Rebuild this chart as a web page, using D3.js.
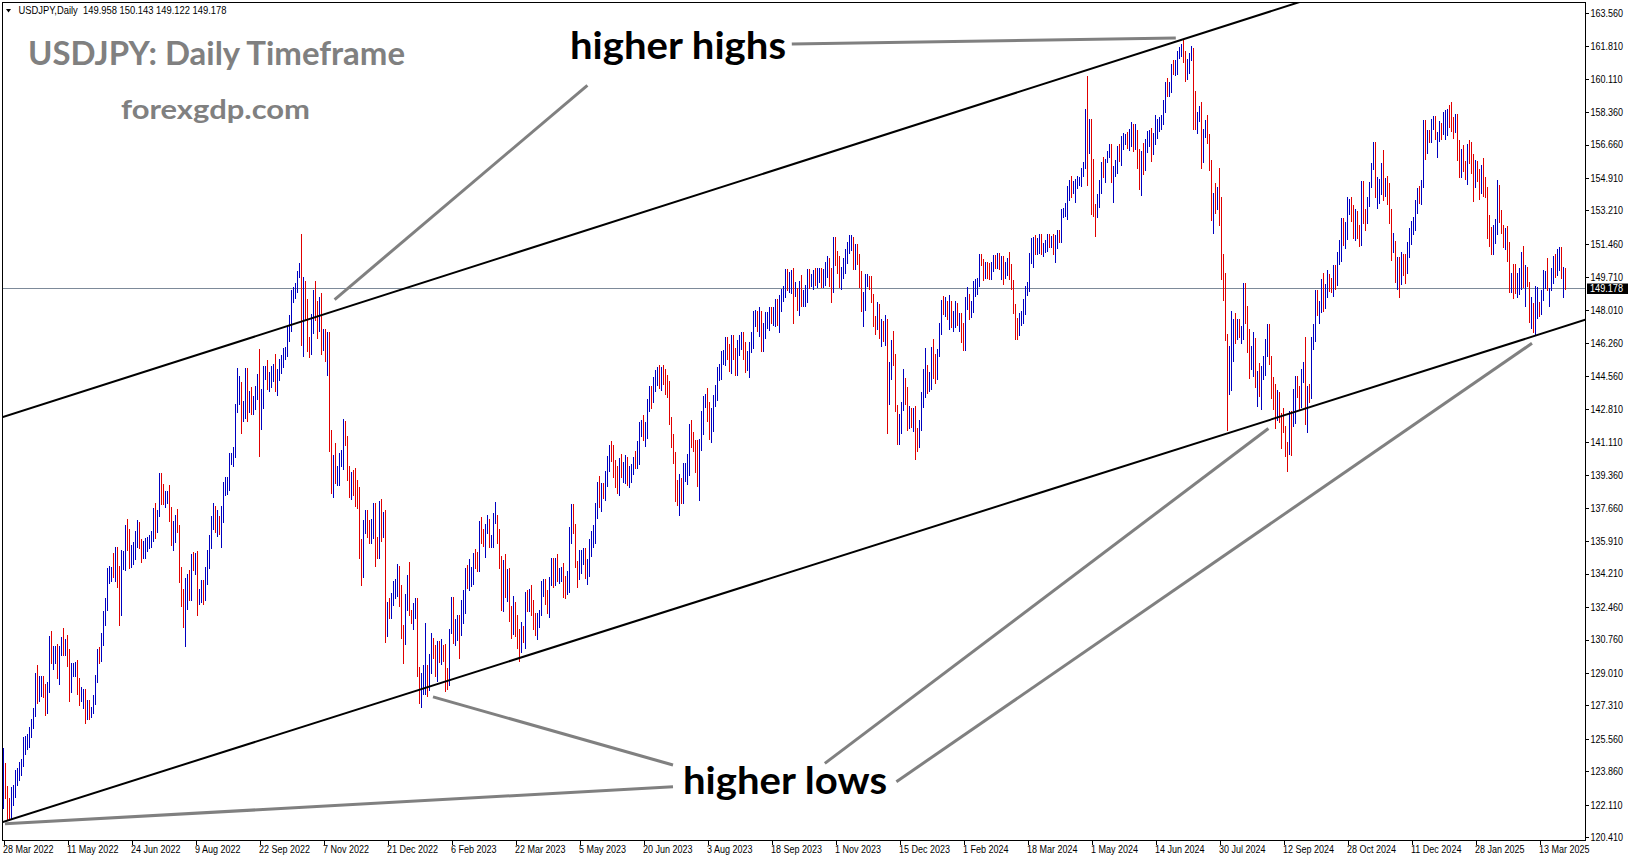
<!DOCTYPE html>
<html><head><meta charset="utf-8">
<script src="https://cdn.jsdelivr.net/npm/d3@7"></script>
<style>
html,body{margin:0;padding:0;background:#fff;overflow:hidden;}
svg{display:block;}
text{white-space:pre;}
</style></head>
<body><svg id="chart" width="1631" height="861"></svg>
<script>
// ---------------- DATA (USDJPY daily, 28 Mar 2022 .. 1 Apr 2025) ----------------
const symbolHeader = "USDJPY,Daily  149.958 150.143 149.122 149.178";
const chartTitle = "USDJPY: Daily Timeframe";
const siteLabel = "forexgdp.com";
const firstOpen = 122.10;
const lastPrice = 149.178;
// daily closes (one trading week per line)
const closes = [
123.85,122.85,121.85,121.70,122.50, 122.80,123.60,123.80,123.95,124.30,
125.35,125.40,125.60,125.85,126.40, 126.95,128.90,127.90,128.40,128.50,
128.10,127.20,128.30,130.80,129.70, 130.10,130.10,129.10,130.20,130.55,
130.30,130.45,129.95,128.30,129.20, 129.20,129.35,128.20,127.80,127.85,
127.85,126.85,127.35,127.10,127.10, 127.65,128.70,130.05,129.90,130.85,
131.90,132.60,134.20,134.40,134.45, 134.40,135.40,133.90,132.20,135.00,
135.05,136.65,136.20,134.95,135.20, 135.45,136.10,136.60,135.70,135.20,
135.70,135.85,135.90,136.00,136.10, 137.40,136.85,137.40,138.95,138.55,
138.15,138.20,138.20,137.35,136.10, 136.65,136.95,136.55,134.25,133.30,
131.60,133.15,133.85,133.00,135.00, 134.95,135.05,132.90,133.00,133.45,
133.30,134.25,135.10,135.90,137.00, 137.50,136.75,137.10,136.55,137.20,
138.70,138.75,138.95,140.20,140.20, 140.50,142.75,143.75,144.10,142.55,
142.80,144.55,143.15,143.45,142.95, 143.20,143.70,144.05,142.35,143.35,
144.75,144.75,144.15,144.45,144.75, 144.85,144.15,144.60,145.10,145.30,
145.70,145.85,146.85,147.20,148.70, 149.00,149.20,149.90,150.15,147.65,
149.00,148.05,146.35,146.30,147.45, 148.70,148.15,147.90,148.25,146.60,
146.60,145.60,146.45,141.00,138.60, 139.90,139.30,139.50,140.20,140.35,
142.05,141.20,139.50,138.60,139.20, 138.90,138.10,138.00,135.30,134.30,
136.70,137.10,136.60,136.20,136.55, 137.70,135.60,135.50,137.80,136.60,
136.90,131.70,132.40,132.35,132.85, 133.50,133.50,134.50,133.00,131.10,
131.00,132.50,134.00,132.10,
131.90,132.25,132.50,129.20,127.90, 128.50,128.90,128.90,128.40,129.60,
130.70,130.15,129.25,130.25,129.85, 130.35,130.10,128.85,128.65,131.20,
132.65,131.05,131.40,131.60,131.35, 132.40,133.10,134.15,133.95,134.15,
134.25,134.95,134.90,134.70,136.45, 136.20,136.15,136.70,136.75,135.85,
135.90,137.15,137.15,136.10,134.90, 133.20,134.20,133.45,133.70,131.80,
131.40,132.50,131.50,130.90,130.70, 131.35,130.90,132.90,132.70,132.80,
132.50,131.70,131.35,131.80,132.20, 133.60,133.70,133.00,132.60,133.80,
134.50,134.10,134.70,134.20,134.20, 134.25,133.75,133.60,133.90,136.30,
137.50,136.60,134.65,134.30,134.80, 135.10,135.20,134.35,134.55,135.70,
136.10,136.40,137.60,138.70,137.95, 138.60,138.55,139.25,139.95,140.60,
140.40,139.75,139.30,138.80,139.95, 139.55,139.60,140.10,139.00,139.40,
139.60,140.10,140.00,140.30,141.80, 141.90,141.45,141.90,143.10,143.70,
143.45,144.05,144.45,144.80,144.30, 144.70,144.40,144.10,144.05,142.10,
141.30,140.35,138.50,138.05,138.80, 138.70,139.55,139.65,140.05,141.80,
141.50,140.90,140.10,139.45,141.15, 142.30,143.30,143.40,142.55,141.75,
142.45,143.35,143.75,144.70,144.95, 145.55,145.60,146.35,145.80,145.40,
146.25,145.90,144.85,146.10,146.45, 146.50,145.90,145.55,145.55,146.20,
146.50,147.65,147.70,147.30,147.85, 146.55,147.10,147.45,147.45,147.85,
147.60,147.85,148.35,147.60,148.35, 148.85,149.05,149.60,149.30,149.35,
149.85,149.00,149.05,148.50,149.30, 148.50,148.70,149.10,149.80,149.55,
149.55,149.85,149.80,149.85,149.85, 149.70,149.90,150.30,150.40,149.65,
149.10,151.70,150.95,150.50,149.40, 150.05,150.40,150.95,151.35,151.50,
151.70,150.40,151.35,150.70,149.60, 148.35,148.40,149.55,149.55,149.45,
148.70,147.45,147.20,148.20,146.80, 147.20,147.15,147.30,144.15,144.95,
146.20,145.40,142.90,141.85,142.15, 142.85,143.90,143.55,142.10,142.45,
142.35,142.45,141.40,141.00,
142.00,143.30,144.60,144.60,
144.25,144.45,145.75,145.30,144.85, 145.75,147.20,148.20,148.15,148.15,
148.10,148.35,147.50,147.60,148.15, 147.50,147.60,146.90,146.40,148.35,
148.70,147.90,148.15,149.30,149.30, 149.35,150.80,150.55,149.95,150.20,
150.15,150.00,150.30,150.55,150.50, 150.65,150.50,150.70,149.95,150.10,
150.50,150.00,149.35,148.10,147.05, 146.95,147.70,147.80,148.35,149.05,
149.15,150.85,151.25,151.60,151.40, 151.45,151.55,151.30,151.30,151.35,
151.65,151.55,151.65,151.30,151.60, 151.85,151.75,153.15,153.20,153.25,
154.25,154.70,154.40,154.65,154.65, 154.80,154.85,155.30,155.60,158.30,
156.80,157.75,155.40,153.20,152.95, 153.85,154.70,155.60,155.45,155.80,
156.20,156.45,154.85,155.40,155.65, 156.25,156.15,156.80,156.95,157.00,
156.85,157.15,157.60,156.80,157.30, 156.10,154.80,156.10,155.60,156.75,
157.05,157.20,156.65,157.05,157.40, 157.75,157.85,158.10,158.85,159.80,
159.70,159.70,160.75,160.65,160.85, 161.45,161.45,161.70,161.25,160.75,
160.80,161.35,161.60,158.85,157.85, 158.05,158.35,156.20,157.35,157.50,
157.00,155.50,153.10,153.90,153.75, 154.00,152.70,150.00,149.40,146.50,
144.20,144.30,146.80,147.20,146.65, 147.20,146.85,146.85,149.30,147.60,
146.60,145.20,145.20,146.30,144.35, 144.50,143.90,144.65,144.95,146.15,
146.95,145.45,143.75,143.40,142.30, 143.10,142.50,142.35,141.80,140.85,
140.65,142.40,142.30,142.65,143.90, 143.60,143.20,144.80,144.85,142.20,
143.60,143.55,146.45,146.95,148.70, 148.20,148.25,149.30,148.60,149.15,
149.75,149.25,149.20,150.05,149.50, 150.90,151.05,152.70,151.80,152.30,
153.30,153.40,153.35,152.05,152.95, 152.15,151.60,154.65,152.95,152.65,
153.70,154.60,155.45,156.25,154.30, 154.65,154.65,155.45,154.55,154.80,
154.20,153.05,151.10,151.50,149.75, 150.45,149.55,150.60,150.10,150.00,
151.25,151.95,152.45,152.65,153.65, 154.15,154.10,154.60,157.40,156.40,
157.20,157.15,157.85,157.85,
157.00,157.20,157.45,157.30,
157.65,158.05,158.30,158.05,157.75, 157.50,158.05,156.45,155.15,156.30,
155.65,155.55,156.55,156.05,155.95, 154.50,155.55,155.25,154.30,155.15,
154.35,154.30,152.65,152.00,151.40, 152.10,152.45,154.40,152.80,152.30,
151.55,151.95,151.45,149.20,149.60, 149.00,148.95,149.10,149.80,150.60,
149.40,149.85,149.35,147.95,148.05, 147.25,147.75,148.30,147.85,148.60,
149.25,149.30,149.10,149.12,149.90, 150.70,149.90,150.55,151.05,149.85,
149.95,149.178
];
// upper wick above max(open, close), in tenths of a yen
const wickUp = [
12,4,2,6,5, 3,3,2,4,2, 3,3,2,3,2, 2,1,5,4,3, 3,3,2,1,4, 3,3,4,2,3,
8,3,5,3,3, 3,2,3,5,4, 3,3,2,2,1, 2,2,2,3,2, 3,3,3,2,1, 8,2,2,7,4,
3,1,4,3,5, 4,3,4,3,3, 2,2,2,2,3, 2,5,1,5,5, 3,3,3,6,3, 3,3,6,2,3,
1,8,3,5,2, 3,2,3,4,4, 4,3,3,3,2, 4,2,4,1,5, 3,5,3,3,3, 3,3,12,4,1,
4,4,4,3,5, 3,3,6,19,5, 3,3,6,3,3, 3,8,3,3,3, 3,2,3,5,3, 2,2,1,3,18,
7,5,5,2,3, 3,8,3,4,6, 4,4,4,4,7, 5,11,3,3,3, 2,1,2,3,3, 4,8,10,7,7,
3,4,4,4,5, 2,2,5,2,3, 5,6,3,5,3, 3,4,2,1,6,
4,6,1,8,
2,4,4,4,1, 5,5,27,5,4, 4,1,3,4,4, 4,1,4,4,1, 3,3,4,4,4, 4,2,3,5,8,
3,3,5,4,5, 7,3,1,5,3, 3,2,8,1,4, 2,7,10,7,8, 7,5,2,5,4, 3,1,3,4,6,
8,3,4,3,1, 2,2,2,3,2, 5,5,3,5,3, 3,5,3,4,3, 3,3,2,2,6, 3,3,3,4,3,
3,3,3,3,6, 3,3,3,4,3, 5,5,4,5,3, 5,4,3,2,4, 3,2,5,8,3, 3,6,2,2,3,
3,4,4,2,3, 3,4,5,5,2, 3,2,2,6,6, 4,4,3,4,2, 4,1,3,11,1, 4,2,2,5,6,
4,2,3,3,2, 3,3,2,2,4, 4,4,1,3,2, 3,3,4,3,1, 3,3,3,2,3, 1,2,4,4,3,
3,3,2,2,4, 2,2,5,5,6, 2,3,4,1,2, 5,3,2,3,3, 3,2,3,3,3, 3,2,2,4,3,
5,1,1,1,3, 2,3,2,2,4, 2,1,1,1,2, 4,5,3,3,2, 3,1,2,2,1, 3,2,4,2,3,
2,7,3,1,4, 3,10,5,4,5,
4,4,5,4,
2,4,3,14,
5,3,3,7,4, 2,1,3,5,5, 3,4,1,3,3, 2,2,2,4,3, 5,1,3,2,3, 3,1,1,1,3,
3,3,2,3,3, 3,3,1,1,4, 2,5,4,2,2, 5,1,1,2,2, 3,1,5,2,3, 3,4,4,2,3,
3,3,2,3,3, 3,3,1,1,3, 2,1,3,1,2, 2,1,1,1,2, 19,2,2,5,3, 2,1,1,4,1,
1,2,2,1,2, 3,4,3,3,2, 3,3,2,1,4, 1,3,2,6,2, 3,2,3,2,8, 2,2,1,1,1,
3,2,1,3,2, 1,3,2,4,3, 3,1,2,1,6, 3,3,5,1,4, 7,2,3,2,7, 4,14,12,9,5,
2,18,11,3,6, 3,3,3,1,1, 6,4,9,5,2, 3,7,4,6,3, 3,3,1,7,7, 7,6,1,5,1,
2,3,3,12,6, 6,4,1,4,17, 4,5,1,3,3, 3,2,3,6,2, 3,1,4,3,3, 1,6,1,1,3,
6,4,5,1,3, 2,3,1,1,3, 2,1,2,5,5, 3,2,2,9,1, 2,4,2,5,1, 3,3,4,3,8,
3,3,2,2,1, 2,3,2,5,5,
2,2,1,3,
3,1,4,3,
7,4,2,4,8, 3,2,2,4,1, 3,1,1,3,7, 2,3,2,1,4, 8,6,1,3,3, 3,3,4,1,4,
1,3,4,1,3, 8,14,8,4,4, 7,5,4,1,6, 3,15,9,1,4, 8,7,14,0,3, 1,2,6,2,2,
3,2
];
// lower wick below min(open, close), in tenths of a yen
const wickDown = [
2,4,5,4,3, 4,3,5,4,3, 2,6,4,5,2, 3,2,5,4,6, 4,4,3,3,2, 5,6,4,7,3,
4,4,6,8,3, 4,4,3,5,3, 7,5,3,5,4, 2,3,2,4,3, 4,4,3,5,6, 4,6,4,7,2,
6,7,8,5,4, 5,5,5,2,4, 2,7,5,4,4, 2,8,5,2,7, 3,5,3,4,4, 7,8,2,5,8,
2,12,8,2,2, 6,8,9,3,3, 7,5,6,6,4, 5,4,6,3,10, 3,4,4,4,3, 4,2,1,7,10,
4,5,10,5,4, 4,4,4,20,6, 5,4,3,4,5, 5,4,6,3,4, 3,3,3,5,3, 3,4,3,2,15,
21,6,5,8,6, 7,7,14,10,9, 7,3,10,4,2, 4,4,5,7,4, 7,3,4,4,5, 6,4,4,3,7,
3,4,5,4,4, 5,10,5,5,7, 5,11,8,5,5, 3,6,5,5,3,
15,5,2,1,
3,6,4,4,5, 7,6,10,6,3, 6,4,4,7,3, 4,5,8,5,3, 1,5,6,7,16, 4,8,10,5,6,
6,6,4,4,4, 4,5,11,4,3, 3,3,3,3,4, 9,10,5,7,1, 6,4,6,6,11, 6,3,6,5,5,
5,4,4,6,4, 2,6,4,5,7, 2,6,5,4,5, 4,8,7,5,7, 5,3,1,8,4, 6,4,4,7,5,
6,5,6,5,3, 5,4,5,5,4, 3,5,6,4,5, 3,6,7,2,3, 4,2,3,3,4, 4,3,6,6,4,
6,3,3,4,4, 5,3,5,6,1, 5,4,5,3,8, 8,8,5,8,7, 7,3,6,7,14, 5,8,4,4,5,
7,8,4,5,4, 6,4,5,4,6, 7,5,3,3,5, 5,5,8,7,11, 4,5,5,4,7, 7,7,6,4,5,
3,4,7,4,8, 4,4,4,3,4, 5,17,3,5,8, 3,3,5,7,4, 3,5,5,6,4, 5,5,6,6,4,
7,2,6,6,2, 3,4,5,5,4, 4,3,3,3,4, 4,12,4,3,4, 3,3,5,2,3, 7,8,10,26,11,
6,3,2,9,9, 6,1,5,4,3,
5,7,12,4,
2,3,4,12,
6,5,6,9,7, 5,2,5,4,5, 6,11,4,6,5, 3,6,6,5,5, 3,4,3,3,6, 5,1,2,4,3,
5,4,4,3,3, 3,4,9,6,3, 3,4,3,3,6, 5,3,5,5,6, 3,2,4,10,5, 5,5,4,5,3,
3,3,3,4,8, 4,2,2,3,3, 5,5,5,3,10, 3,3,4,3,2, 23,6,24,3,11, 1,5,6,5,8,
1,2,2,12,4, 5,4,6,4,3, 4,5,6,5,4, 7,5,8,5,3, 5,5,9,5,4, 4,4,4,4,5,
5,5,3,3,4, 5,3,2,3,8, 7,4,3,14,4, 6,2,8,5,3, 3,2,4,11,7, 5,3,4,9,1,
25,6,5,15,4, 2,3,6,4,3, 8,8,3,7,4, 14,4,11,3,4, 6,3,4,6,5, 1,4,16,2,5,
11,2,19,4,6, 2,4,3,6,2, 6,4,2,5,6, 5,9,4,7,5, 5,3,3,5,4, 2,5,5,4,6,
6,3,7,3,4, 4,3,2,4,5, 1,3,2,1,4, 10,11,6,8,6, 7,5,5,1,3, 7,9,2,3,6,
1,5,5,5,5, 6,5,6,2,5,
2,4,4,4,
1,10,4,4,
1,7,9,5,4, 5,2,6,2,2, 4,7,10,4,8, 8,1,5,5,2, 4,4,9,7,5, 5,6,5,2,3,
3,4,9,3,3, 4,1,3,3,7, 2,12,1,6,9, 4,6,2,2,1, 1,1,1,9,1, 5,2,1,5,2,
12,1
];
// price-axis labels
const priceTicks = [163.560,161.810,160.110,158.360,156.660,154.910,153.210,151.460,149.710,
  148.010,146.260,144.560,142.810,141.110,139.360,137.660,135.910,134.210,132.460,
  130.760,129.010,127.310,125.560,123.860,122.110,120.410];
// date-axis labels, one every 32 bars
const dateTickLabels = ["28 Mar 2022","11 May 2022","24 Jun 2022","9 Aug 2022","22 Sep 2022",
  "7 Nov 2022","21 Dec 2022","6 Feb 2023","22 Mar 2023","5 May 2023","20 Jun 2023",
  "3 Aug 2023","18 Sep 2023","1 Nov 2023","15 Dec 2023","1 Feb 2024","18 Mar 2024",
  "1 May 2024","14 Jun 2024","30 Jul 2024","12 Sep 2024","28 Oct 2024","11 Dec 2024",
  "28 Jan 2025","13 Mar 2025"];
const dateTickStep = 32;
// channel trend lines, as [bar index, price] anchor pairs
const channelUpper = [[0, 142.40], [700, 165.85]];
const channelLower = [[1, 121.25], [791.4, 147.50]];
// grey pointer lines from the labels, [bar index, price] pairs
const highsPointers = [
  [[394.4, 161.92], [586.4, 162.24]],
  [[292.2, 159.76], [165.8, 148.55]]
];
const lowsPointers = [
  [[335.0, 123.05], [1.0, 121.12]],
  [[335.0, 124.19], [215.0, 127.76]],
  [[410.9, 124.28], [632.7, 141.80]],
  [[446.7, 123.32], [764.5, 146.26]]
];

// ---------------- DRAWING ----------------
const svg = d3.select("#chart");
const P = {left: 2, top: 2, right: 1586, bottom: 841};
const n = closes.length;
const x = d3.scaleLinear().domain([0, n - 1]).range([3, 3 + 2 * (n - 1)]);
const y = d3.scaleLinear().domain([120.41, 163.56]).range([837.3, 12.7]);

svg.append("rect").attr("width", 1631).attr("height", 861).attr("fill", "#fff");
svg.append("defs").append("clipPath").attr("id", "plotClip")
  .append("rect").attr("x", P.left).attr("y", P.top)
  .attr("width", P.right - P.left).attr("height", P.bottom - P.top);

const bars = closes.map((c, i) => {
  const o = i === 0 ? firstOpen : closes[i - 1];
  return {i, o, c,
    hi: Math.max(o, c) + (wickUp[i] || 0) / 10,
    lo: Math.min(o, c) - (wickDown[i] || 0) / 10};
});

const plotG = svg.append("g").attr("clip-path", "url(#plotClip)");

// current price line
plotG.append("line")
  .attr("x1", P.left).attr("x2", P.right)
  .attr("y1", Math.round(y(lastPrice)) + 0.5).attr("y2", Math.round(y(lastPrice)) + 0.5)
  .attr("stroke", "#7d8a99").attr("stroke-width", 1);

// bars (high-low), 1 pixel wide, full-pixel coverage
plotG.append("g").selectAll("rect").data(bars).join("rect")
  .attr("x", d => x(d.i)).attr("width", 1)
  .attr("y", d => Math.floor(y(d.hi)))
  .attr("height", d => Math.max(1, Math.ceil(y(d.lo)) - Math.floor(y(d.hi))))
  .attr("fill", d => d.c >= d.o ? "#0000c0" : "#e00000")
  .attr("shape-rendering", "crispEdges");

// helper: extend a line through two data points across the plot width
function extended(p) {
  const x1 = x(p[0][0]), y1 = y(p[0][1]), x2 = x(p[1][0]), y2 = y(p[1][1]);
  const k = (y2 - y1) / (x2 - x1);
  return [[P.left, y1 + k * (P.left - x1)], [P.right, y1 + k * (P.right - x1)]];
}
const lineGen = d3.line();
[channelUpper, channelLower].forEach(ch => {
  plotG.append("path").attr("d", lineGen(extended(ch)))
    .attr("stroke", "#000").attr("stroke-width", 2).attr("fill", "none");
});

// grey pointers
const annG = svg.append("g");
[...highsPointers, ...lowsPointers].forEach(seg => {
  annG.append("path")
    .attr("d", lineGen(seg.map(p => [x(p[0]), y(p[1])])))
    .attr("stroke", "#808080").attr("stroke-width", 3).attr("fill", "none");
});

// frame
svg.append("rect").attr("x", P.left + 0.5).attr("y", P.top + 0.5)
  .attr("width", P.right - P.left - 1).attr("height", P.bottom - P.top - 1)
  .attr("fill", "none").attr("stroke", "#000").attr("stroke-width", 1)
  .attr("shape-rendering", "crispEdges");

// price axis
const yAxis = d3.axisRight(y).tickValues(priceTicks)
  .tickFormat(d3.format(".3f")).tickSize(3).tickPadding(2);
const yAxG = svg.append("g").attr("transform", `translate(${P.right - 0.5},0)`).call(yAxis);
yAxG.select(".domain").remove();
yAxG.selectAll("line").attr("stroke", "#000").attr("shape-rendering", "crispEdges");
yAxG.selectAll("text").attr("font-family", "Liberation Sans, Arial, sans-serif")
  .attr("font-size", 10).attr("fill", "#000").attr("dy", "0.34em");

// date axis
const dateTickIdx = dateTickLabels.map((_, k) => k * dateTickStep);
const xAxis = d3.axisBottom(x).tickValues(dateTickIdx)
  .tickFormat((d, k) => dateTickLabels[k]).tickSize(4);
const xAxG = svg.append("g").attr("transform", `translate(0.5,${P.bottom - 0.5})`).call(xAxis);
xAxG.select(".domain").remove();
xAxG.selectAll("line").attr("stroke", "#000").attr("shape-rendering", "crispEdges");
xAxG.selectAll("text").attr("font-family", "Liberation Sans, Arial, sans-serif")
  .attr("font-size", 10).attr("fill", "#000")
  .attr("text-anchor", "start").attr("x", -1).attr("y", 12).attr("dy", null);

// narrow the axis labels a little (terminal font is condensed)
svg.selectAll(".tick text").each(function () {
  const w = this.getComputedTextLength();
  this.setAttribute("textLength", (w * 0.9).toFixed(1));
  this.setAttribute("lengthAdjust", "spacingAndGlyphs");
});

// last price tag
const yl = Math.round(y(lastPrice)) + 0.5;
svg.append("rect").attr("x", P.right + 1).attr("y", yl - 5).attr("width", 41).attr("height", 10.5)
  .attr("fill", "#000");
svg.append("text").attr("x", P.right + 4).attr("y", yl + 3.7).text(lastPrice.toFixed(3))
  .attr("font-family", "Liberation Sans, Arial, sans-serif").attr("font-size", 10)
  .attr("fill", "#fff").attr("textLength", 33).attr("lengthAdjust", "spacingAndGlyphs");

// header
svg.append("path").attr("d", "M6,9 L11,9 L8.5,12.5 Z").attr("fill", "#000");
svg.append("text").attr("x", 18.5).attr("y", 14.3).text(symbolHeader)
  .attr("font-family", "Liberation Sans, Arial, sans-serif").attr("font-size", 10.5)
  .attr("fill", "#000").attr("textLength", 208).attr("lengthAdjust", "spacingAndGlyphs");

// title & site
svg.append("text").attr("x", 28).attr("y", 65).text(chartTitle)
  .attr("font-family", "Lato, Open Sans, sans-serif").attr("font-weight", 700)
  .attr("font-size", 33).attr("fill", "#808080")
  .attr("textLength", 377).attr("lengthAdjust", "spacingAndGlyphs");
svg.append("text").attr("x", 121).attr("y", 119).text(siteLabel)
  .attr("font-family", "Lato, Open Sans, sans-serif").attr("font-weight", 700)
  .attr("font-size", 27).attr("fill", "#808080")
  .attr("textLength", 189).attr("lengthAdjust", "spacingAndGlyphs");

// annotation labels
svg.append("text").attr("x", 570).attr("y", 59).text("higher highs")
  .attr("font-family", "Lato, Open Sans, sans-serif").attr("font-weight", 700)
  .attr("font-size", 38).attr("fill", "#000")
  .attr("textLength", 216).attr("lengthAdjust", "spacingAndGlyphs");
svg.append("text").attr("x", 683).attr("y", 794).text("higher lows")
  .attr("font-family", "Lato, Open Sans, sans-serif").attr("font-weight", 700)
  .attr("font-size", 38).attr("fill", "#000")
  .attr("textLength", 204).attr("lengthAdjust", "spacingAndGlyphs");
</script>
</body></html>
